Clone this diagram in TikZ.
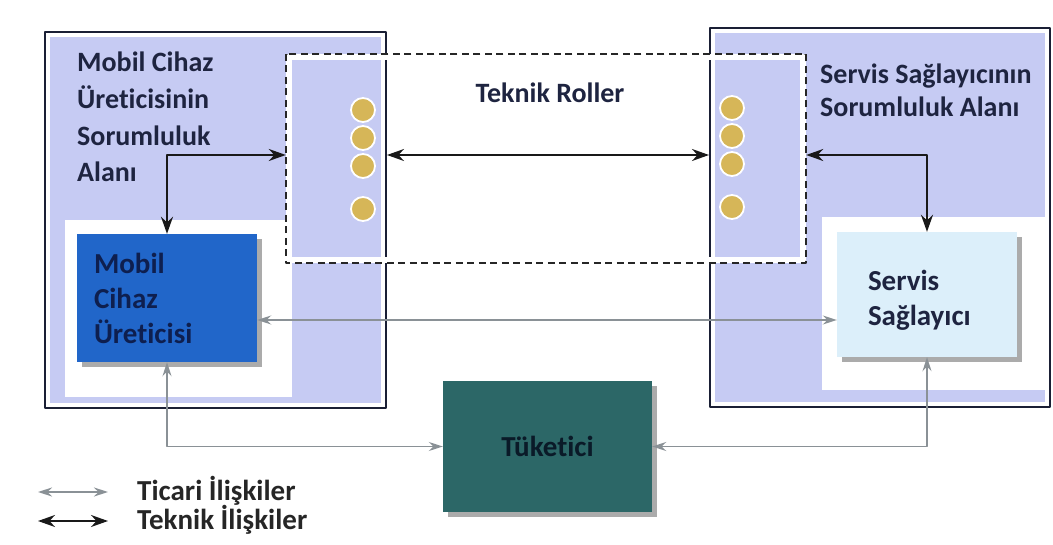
\documentclass[tikz,border=0pt]{standalone}
\usepackage{fontspec}
\setmainfont{Carlito}[Ligatures=NoCommon]
\usetikzlibrary{arrows.meta,shadows}

\definecolor{framenavy}{HTML}{1A1F35}
\definecolor{lav}{HTML}{C6CBF3}
\definecolor{mobblue}{HTML}{2166C9}
\definecolor{mobtext}{HTML}{0E1F4F}
\definecolor{servfill}{HTML}{DCEFFA}
\definecolor{tukteal}{HTML}{2C6767}
\definecolor{tuktext}{HTML}{0A1A28}
\definecolor{dotgold}{HTML}{D6B658}
\definecolor{navytext}{HTML}{1E2440}
\definecolor{relgray}{HTML}{8A9196}

\begin{document}
\begin{tikzpicture}[x=1pt,y=-1pt,line cap=round,line join=round,
  every node/.style={inner sep=0pt},
  areaframe/.style={draw=framenavy,line width=2pt,fill=white},
  dashbox/.style={draw=black!85,line width=2.4pt,dash pattern=on 7pt off 4.5pt,line cap=butt,minimum width=518pt,minimum height=207pt},
  roledot/.style={circle,fill=dotgold,draw=white,line width=1.8pt,minimum size=24pt},
  actorbox/.style={align=left,font=\bfseries\fontsize{29}{35}\selectfont,
    drop shadow={shadow xshift=5pt,shadow yshift=-5pt,fill=black!65,opacity=.5}},
  titletext/.style={align=left,anchor=north west,text=navytext},
  legendtext/.style={anchor=west,text=black!85,font=\bfseries\fontsize{29}{34}\selectfont},
  teknik/.style={{Stealth[length=17pt,width=12pt]}-{Stealth[length=17pt,width=12pt]},line width=2pt,draw=black!90},
  ticari/.style={{Stealth[length=14pt,width=9pt]}-{Stealth[length=14pt,width=9pt]},line width=1.6pt,draw=relgray}]
  \useasboundingbox (0,0) rectangle (1053,545);
  \fill[white] (0,0) rectangle (1053,545);

  \node[areaframe,minimum width=341pt,minimum height=376pt] (leftframe) at (215.5,220) {};
  \node[areaframe,minimum width=340pt,minimum height=379pt] (rightframe) at (880,217.5) {};
  \fill[lav] (50,37) rectangle (381,403);
  \fill[lav] (715,33) rectangle (1045,402);
  \fill[white] (65,220) rectangle (292,397);
  \fill[white] (822,217) rectangle (1046,390);

  \node[dashbox] (roles) at (546,158.5) {};
  \draw[white,line width=6pt] ([shift={(3,3)}]roles.north west) rectangle ([shift={(-3,-3)}]roles.south east);
  \draw[dashbox] (roles.north west) rectangle (roles.south east);
  \foreach \y in {110,138,166,209} {
    \node[roledot] (ldot\y) at (363,\y) {};
  }
  \foreach \y in {108,136,164,207} {
    \node[roledot] (rdot\y) at (732,\y) {};
  }

  \node[actorbox,fill=mobblue,text=mobtext,text width=146pt,minimum width=180pt,minimum height=128pt] (mobil) at (167,298) {Mobil\\Cihaz\\Üreticisi};
  \node[actorbox,fill=servfill,text=navytext,text width=118pt,minimum width=180pt,minimum height=125pt] (servis) at (927,294.5) {\\[-4pt]Servis\\Sağlayıcı};
  \node[actorbox,fill=tukteal,text=tuktext,minimum width=209pt,minimum height=131pt] (tuketici) at (547.5,446.5) {Tüketici};

  \node[titletext,font=\bfseries\fontsize{28}{36.7}\selectfont] (mobiltitle) at (77,52) {Mobil Cihaz\\Üreticisinin\\Sorumluluk\\Alanı};
  \node[titletext,font=\bfseries\fontsize{28}{33}\selectfont] (servistitle) at (820,64) {Servis Sağlayıcının\\Sorumluluk Alanı};
  \node[text=navytext,font=\bfseries\fontsize{28}{33}\selectfont] (rolestitle) at (550,93) {Teknik Roller};

  \coordinate (tekrow) at (0,155);
  \coordinate (ticrow) at (0,320);
  \draw[teknik] (leftframe.east |- tekrow) -- (rightframe.west |- tekrow);
  \draw[teknik] (mobil.north) |- (roles.west |- tekrow);
  \draw[teknik] (roles.east |- tekrow) -| (servis.north);
  \draw[ticari] (mobil.east |- ticrow) -- (servis.west |- ticrow);
  \draw[ticari] (mobil.south) |- (tuketici.west);
  \draw[ticari] (tuketici.east) -| (servis.south);

  \node[legendtext] (legtic) at (137,491) {Ticari İlişkiler};
  \node[legendtext] (legtek) at (137,520) {Teknik İlişkiler};
  \coordinate (legticA) at (38,492);
  \coordinate (legticB) at (108,492);
  \coordinate (legtekA) at (38,521);
  \coordinate (legtekB) at (108,521);
  \draw[ticari] (legticA) -- (legticB);
  \draw[teknik] (legtekA) -- (legtekB);
\end{tikzpicture}
\end{document}
